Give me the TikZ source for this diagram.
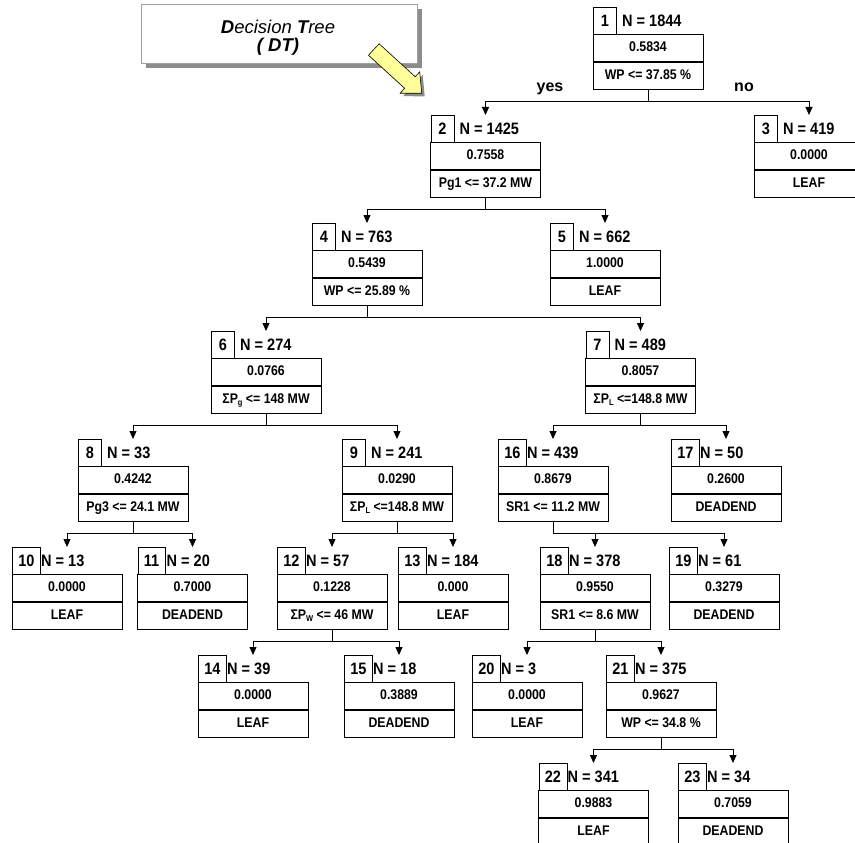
\documentclass[tikz,border=0pt]{standalone}
\usepackage{fontspec}
\setmainfont{Liberation Sans}
\newfontfamily\nodefont[FakeStretch=0.88]{Liberation Sans}
\usetikzlibrary{arrows.meta,calc}
\definecolor{arrowyellow}{HTML}{FFFF99}
\definecolor{shadowgray}{HTML}{8C8C8C}
\definecolor{boxgray}{HTML}{A0A0A0}
\newcommand\sbs[1]{\raisebox{-2.5pt}{\fontsize{8.5}{8.5}\selectfont #1}}
% #1 name, #2 number, #3 centre x, #4 top y, #5 N, #6 value, #7 rule
\newcommand\tnode[7]{%
  \coordinate (#1) at (#3,#4);
  \node[valbox, anchor=north] (#1-v) at (#3,#4+27) {#6};
  \node[valbox, anchor=north] (#1-r) at (#1-v.south) {#7};
  \node[numbox, anchor=north west] (#1-n) at (#3-55,#4) {#2};
  \node[ntext, anchor=west] (#1-t) at (#3-26,#4+13.5) {N = #5};
}
\begin{document}
\begin{tikzpicture}[x=1pt,y=-1pt,
  valbox/.style={draw=black, line width=0.8pt, minimum width=110pt, minimum height=27pt,
    inner sep=0pt, text height=10pt, text depth=2.5pt, font=\nodefont\fontsize{14}{16}\selectfont\bfseries},
  numbox/.style={draw=black, line width=0.8pt, minimum width=23pt, minimum height=27pt,
    inner xsep=6pt, inner ysep=0pt, text height=11.5pt, text depth=0pt,
    font=\nodefont\fontsize{16.5}{18}\selectfont\bfseries},
  ntext/.style={inner sep=0pt, text height=11.5pt, text depth=0pt,
    font=\nodefont\fontsize{16.5}{18}\selectfont\bfseries},
  conn/.style={draw=black, line width=0.8pt, -{Triangle[length=8pt,width=7pt]}},
  lbl/.style={inner sep=0pt, anchor=base, font=\fontsize{16}{18}\selectfont\bfseries},
  titlebox/.style={draw=boxgray, line width=0.8pt, fill=white, minimum width=276pt,
    minimum height=59pt, inner sep=0pt},
  titletext/.style={inner sep=0pt, anchor=base, font=\fontsize{18.5}{19}\selectfont\itshape}
]
\useasboundingbox (0,0) rectangle (855,843);
\begin{scope}
\clip (0,0) rectangle (855,843);

% title box with shadow
\fill[shadowgray] (146,9) rectangle (421.5,68.5);
\node[titlebox] (title) at (279,33.5) {};
\node[titletext] (title1) at (278,34) {\textbf{D}ecision \textbf{T}ree};
\node[titletext] (title2) at (278,51.5) {\textbf{( DT)}};

% yellow block arrow with shadow
\fill[shadowgray] (371.5,58.25) -- (407.6,91.25) -- (403.1,96.2) -- (424.7,96.3) -- (422.7,74.8) -- (418.2,79.75) -- (382.1,46.75) -- cycle;
\filldraw[fill=arrowyellow, draw=black, line width=0.6pt, line join=miter]
  (368.5,55.25) -- (404.6,88.25) -- (400.1,93.2) -- (421.7,93.3) -- (419.7,71.8) -- (415.2,76.75) -- (379.1,43.75) -- cycle;

% tree nodes
\tnode{n1}{1}{648}{7}{1844}{0.5834}{WP <= 37.85 \%}
\tnode{n2}{2}{485.5}{115}{1425}{0.7558}{Pg1 <= 37.2 MW}
\tnode{n3}{3}{809}{115}{419}{0.0000}{LEAF}
\tnode{n4}{4}{367}{223}{763}{0.5439}{WP <= 25.89 \%}
\tnode{n5}{5}{605}{223}{662}{1.0000}{LEAF}
\tnode{n6}{6}{266}{331}{274}{0.0766}{ΣP\sbs{g} <= 148 MW}
\tnode{n7}{7}{640.5}{331}{489}{0.8057}{ΣP\sbs{L} <=148.8 MW}
\tnode{n8}{8}{133}{439}{33}{0.4242}{Pg3 <= 24.1 MW}
\tnode{n9}{9}{397}{439}{241}{0.0290}{ΣP\sbs{L} <=148.8 MW}
\tnode{n16}{16}{553}{439}{439}{0.8679}{SR1 <= 11.2 MW}
\tnode{n17}{17}{726}{439}{50}{0.2600}{DEADEND}
\tnode{n10}{10}{67}{547}{13}{0.0000}{LEAF}
\tnode{n11}{11}{192.5}{547}{20}{0.7000}{DEADEND}
\tnode{n12}{12}{332}{547}{57}{0.1228}{ΣP\sbs{W} <= 46 MW}
\tnode{n13}{13}{453}{547}{184}{0.000}{LEAF}
\tnode{n18}{18}{595}{547}{378}{0.9550}{SR1 <= 8.6 MW}
\tnode{n19}{19}{724}{547}{61}{0.3279}{DEADEND}
\tnode{n14}{14}{253}{655}{39}{0.0000}{LEAF}
\tnode{n15}{15}{399}{655}{18}{0.3889}{DEADEND}
\tnode{n20}{20}{527}{655}{3}{0.0000}{LEAF}
\tnode{n21}{21}{661}{655}{375}{0.9627}{WP <= 34.8 \%}
\tnode{n22}{22}{593.5}{763}{341}{0.9883}{LEAF}
\tnode{n23}{23}{733}{763}{34}{0.7059}{DEADEND}

% connectors
\foreach \p/\c in {n1/n2,n1/n3,n2/n4,n2/n5,n4/n6,n4/n7,n6/n8,n6/n9,n7/n16,n7/n17,
  n8/n10,n8/n11,n9/n12,n9/n13,n16/n18,n16/n19,n12/n14,n12/n15,n18/n20,n18/n21,n21/n22,n21/n23}
  \draw[conn] (\p-r.south) -- ++(0,12) -| (\c);

% branch labels
\node[lbl] (yes) at (550,92) {yes};
\node[lbl] (no) at (744,92) {no};
\end{scope}
\end{tikzpicture}
\end{document}
